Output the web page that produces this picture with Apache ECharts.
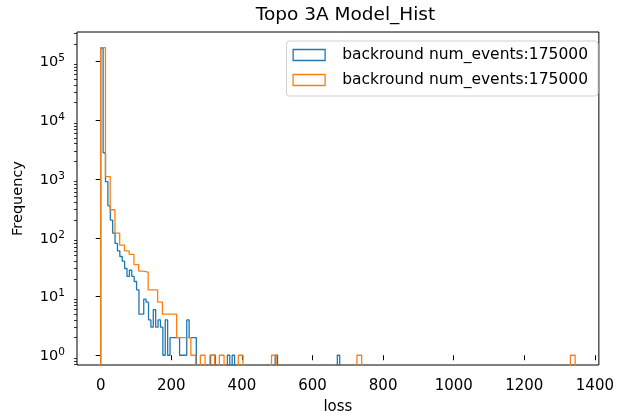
<!DOCTYPE html>
<html><head><meta charset="utf-8">
<script src="https://cdn.jsdelivr.net/npm/echarts@6/dist/echarts.min.js"></script>
<style>html,body{margin:0;padding:0;background:#fff}#c{width:617px;height:420px}</style>
</head><body><div id="c"></div>
<script>
// ---- data ----
const binCount = 100;
const blueRange = [0, 677];
const orangeRange = [0, 1344];
const blueCounts = [
  170186, 2800, 900, 350, 200, 120, 80, 60, 48, 40,
  30, 22, 28, 22, 18, 13, 5, 5, 9, 8,
  4, 3, 6, 3, 4, 3, 1, 4, 1, 2,
  2, 2, 2, 1, 1, 1, 4, 2, 2, 2,
  0, 0, 0, 0, 0, 0, 1, 1, 0, 0,
  0, 0, 0, 1, 0, 1, 0, 0, 0, 0,
  0, 0, 0, 0, 0, 0, 0, 0, 0, 0,
  0, 0, 0, 1, 0, 0, 0, 0, 0, 0,
  0, 0, 0, 0, 0, 0, 0, 0, 0, 0,
  0, 0, 0, 0, 0, 0, 0, 0, 0, 1
];
const orangeCounts = [
  173142, 1100, 300, 120, 75, 60, 52, 35, 27, 26,
  13, 13, 8, 5, 5, 5, 2, 2, 2, 1,
  0, 1, 0, 1, 0, 1, 0, 0, 0, 1,
  0, 0, 0, 0, 0, 0, 1, 0, 0, 0,
  0, 0, 0, 0, 0, 0, 0, 0, 0, 0,
  0, 0, 0, 0, 1, 0, 0, 0, 0, 0,
  0, 0, 0, 0, 0, 0, 0, 0, 0, 0,
  0, 0, 0, 0, 0, 0, 0, 0, 0, 0,
  0, 0, 0, 0, 0, 0, 0, 0, 0, 0,
  0, 0, 0, 0, 0, 0, 0, 0, 0, 1
];
const seriesLabels = ['backround num_events:175000', 'backround num_events:175000'];
const xTickValues = [0, 200, 400, 600, 800, 1000, 1200, 1400];
const yDecadeExponents = [0, 1, 2, 3, 4, 5];
const titleText = 'Topo 3A Model_Hist';
const xName = 'loss';
const yName = 'Frequency';

// ---- helpers ----
const FLOOR = -3; // log10 value for empty bins (clipped below axis)
function stepOutline(range, counts) {
  const w = (range[1] - range[0]) / counts.length;
  const pts = [[range[0], FLOOR]];
  counts.forEach((c, i) => {
    const y = c > 0 ? Math.log10(c) : FLOOR;
    pts.push([range[0] + i * w, y]);
    pts.push([range[0] + (i + 1) * w, y]);
  });
  pts.push([range[1], FLOOR]);
  return pts;
}
const minorTicks = [];
for (let n = -1; n <= 5; n++) for (let k = 2; k <= 9; k++) {
  const v = n + Math.log10(k);
  if (v > -0.166 && v < 5.503) minorTicks.push(v);
}
const FONT = 'DejaVu Sans';
const chart = echarts.init(document.getElementById('c'), null, {renderer: 'canvas'});
chart.setOption({
  animation: false,
  backgroundColor: '#fff',
  title: {text: titleText, left: 340.5, textAlign: 'center', top: 1,
    textStyle: {fontFamily: FONT, fontSize: 18.5, fontWeight: 'normal', color: '#000'}},
  grid: {left: 77, right: 13, top: 32, bottom: 47, show: true, borderColor: '#000', borderWidth: 1, backgroundColor: 'transparent'},
  legend: {
    orient: 'vertical', right: 19, top: 41,
    itemWidth: 32, itemHeight: 11, itemGap: 9,
    padding: [6, 10, 8, 6],
    borderColor: '#d0d0d0', borderWidth: 1, borderRadius: 3, backgroundColor: 'rgba(255,255,255,0.8)',
    textStyle: {fontFamily: FONT, fontSize: 15.5, color: '#000', padding: [0, 0, 0, 12]},
    formatter: name => seriesLabels[name === 's0' ? 0 : 1],
    data: [
      {name: 's0', icon: 'rect', itemStyle: {color: 'rgba(255,255,255,0)', borderColor: '#1f77b4', borderWidth: 1.3}},
      {name: 's1', icon: 'rect', itemStyle: {color: 'rgba(255,255,255,0)', borderColor: '#ff7f0e', borderWidth: 1.3}}
    ]
  },
  xAxis: {
    type: 'value', min: -67.2, max: 1411.2,
    name: xName, nameLocation: 'middle', nameGap: 35,
    nameTextStyle: {fontFamily: FONT, fontSize: 15, color: '#000'},
    axisLine: {show: false},
    splitLine: {show: false},
    axisTick: {show: true, inside: false, length: 5, customValues: xTickValues, lineStyle: {color: '#000', width: 1}},
    axisLabel: {customValues: xTickValues, margin: 14, fontFamily: FONT, fontSize: 15, color: '#000',
      formatter: v => String(v)}
  },
  yAxis: [{
    type: 'value', min: -0.166, max: 5.503,
    name: yName, nameLocation: 'middle', nameGap: 51, nameRotate: 90,
    nameTextStyle: {fontFamily: FONT, fontSize: 14.5, color: '#000'},
    axisLine: {show: false},
    splitLine: {show: false},
    axisTick: {show: true, inside: false, length: 5, customValues: yDecadeExponents, lineStyle: {color: '#000', width: 1}},
    axisLabel: {customValues: yDecadeExponents, margin: 12, fontFamily: FONT, color: '#000',
      formatter: v => '{b|10}{s|' + Math.round(v) + '}',
      rich: {
        b: {fontFamily: FONT, fontSize: 14.5, color: '#000', padding: [2, 0, 0, 0], verticalAlign: 'bottom'},
        s: {fontFamily: FONT, fontSize: 10.5, color: '#000', verticalAlign: 'top'}
      }
    }
  }, {
    type: 'value', min: -0.166, max: 5.503, position: 'left',
    axisLine: {show: false}, splitLine: {show: false}, axisLabel: {show: false},
    axisTick: {show: true, inside: false, length: 3, customValues: minorTicks, lineStyle: {color: '#000', width: 0.8}}
  }],
  series: [
    {name: 's0', type: 'line', data: stepOutline(blueRange, blueCounts), showSymbol: false, symbol: 'none',
      clip: true, color: '#1f77b4', lineStyle: {color: '#1f77b4', width: 1.3}},
    {name: 's1', type: 'line', data: stepOutline(orangeRange, orangeCounts), showSymbol: false, symbol: 'none',
      clip: true, color: '#ff7f0e', lineStyle: {color: '#ff7f0e', width: 1.3}}
  ]
});
</script>
</body></html>
